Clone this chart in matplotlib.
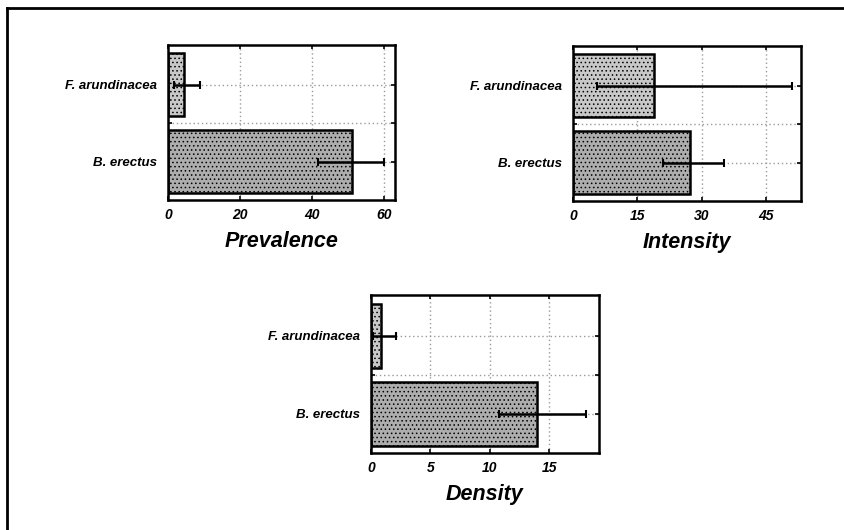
import matplotlib
matplotlib.use("Agg")
import matplotlib.pyplot as plt
from matplotlib.lines import Line2D
import numpy as np

plt.rcParams['font.family'] = ['Liberation Sans', 'DejaVu Sans']
plt.rcParams['hatch.color'] = '#858585'
plt.rcParams['hatch.linewidth'] = 0.6

categories = ["B. erectus", "F. arundinacea"]

prevalence = [51.0, 4.5]
prevalence_lo = [9.5, 2.8]
prevalence_hi = [9.0, 4.3]
prevalence_ticks = [0, 20, 40, 60]

intensity = [27.4, 18.9]
intensity_lo = [6.4, 13.4]
intensity_hi = [7.9, 32.1]
intensity_ticks = [0, 15, 30, 45]

density = [14.0, 0.84]
density_lo = [3.2, 0.7]
density_hi = [4.1, 1.3]
density_ticks = [0, 5, 10, 15]

fig = plt.figure(figsize=(8.45, 5.30), dpi=100)

W, H = 845.0, 530.0
def rect(l, r, t, b):
    return [l / W, 1 - b / H, (r - l) / W, (b - t) / H]

panels = [
    (rect(168, 395, 45, 200), prevalence, prevalence_lo, prevalence_hi, prevalence_ticks, 63, "Prevalence"),
    (rect(573, 801, 46, 201), intensity, intensity_lo, intensity_hi, intensity_ticks, 53.2, "Intensity"),
    (rect(371, 599, 295, 453), density, density_lo, density_hi, density_ticks, 19.2, "Density"),
]

bar_colors = ['#adadad', '#c8c8c8']

for pos, vals, lo, hi, ticks, xmax, label in panels:
    ax = fig.add_axes(pos)
    y = np.arange(len(categories))
    ax.barh(y, vals, height=0.82, color=bar_colors, edgecolor='black',
            linewidth=1.8, hatch='....', zorder=2)
    ax.errorbar(vals, y, xerr=[lo, hi], fmt='none', ecolor='black',
                elinewidth=1.8, capsize=3, capthick=1.5, zorder=3)
    ax.set_xlim(0, xmax)
    ax.set_ylim(-0.5, 1.52)
    ax.set_xticks(ticks)
    ax.set_xticklabels([str(t) for t in ticks], fontsize=10, fontweight='bold', style='italic')
    ax.set_yticks(y)
    ax.set_yticklabels(categories, fontsize=9.5, fontweight='bold', style='italic')
    ax.set_yticks([0.5], minor=True)
    ax.set_axisbelow(True)
    ax.grid(True, which='both', linestyle=(0, (1, 2)), color='#9a9a9a', linewidth=1.0)
    ax.tick_params(axis='both', which='both', direction='in', length=3, width=1.2,
                   top=True, right=True)
    ax.tick_params(axis='y', pad=8)
    ax.tick_params(axis='x', pad=6)
    for s in ax.spines.values():
        s.set_linewidth(1.8)
    ax.set_xlabel(label, fontsize=15.5, fontweight='bold', style='italic', labelpad=6)

fig.add_artist(Line2D([7 / W, 1.0], [1 - 8 / H, 1 - 8 / H], color='black', linewidth=2))
fig.add_artist(Line2D([7 / W, 7 / W], [0.0, 1 - 8 / H], color='black', linewidth=2))

fig.savefig("out.png", dpi=100)
